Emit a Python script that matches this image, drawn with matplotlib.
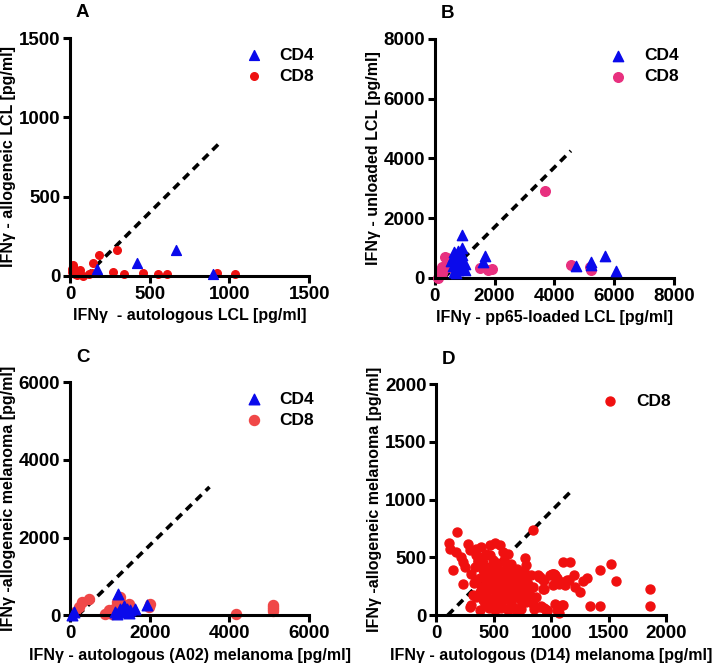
import matplotlib
matplotlib.use('Agg')
import matplotlib.pyplot as plt

plt.rcParams['font.family'] = ['Liberation Sans', 'DejaVu Sans']
plt.rcParams['font.weight'] = 'bold'

# ---- Panel A: autologous vs allogeneic LCL ----
a_cd4_x = [169, 418, 664, 894]
a_cd4_y = [44, 82, 162, 15]
a_cd8_x = [10, 21, 21, 31, 42, 52, 63, 84, 120, 136, 146, 184, 268, 297, 341, 460, 554, 607, 925, 1035, 30, 15]
a_cd8_y = [27, 59, 70, 38, 6, 27, 38, 0, 15, 17, 80, 132, 27, 164, 11, 17, 11, 11, 17, 11, 15, 45]
a_diag_x = [100, 930]
a_diag_y = [0, 830]

# ---- Panel B: pp65-loaded vs unloaded LCL ----
b_cd4_x = [914, 893, 1674, 1617, 4735, 5236, 5236, 5681, 6071, 600, 650, 700, 750, 800, 850, 900, 950,
           1000, 620, 700, 780, 860, 550, 680, 760, 820, 900, 640, 720, 800, 880, 1000]
b_cd4_y = [1430, 994, 736, 546, 402, 536, 440, 726, 235, 700, 850, 600, 800, 500, 650, 420, 300,
           250, 400, 300, 250, 350, 550, 700, 900, 620, 750, 200, 150, 450, 560, 450]
b_cd8_x = [112, 167, 224, 335, 435, 300, 400, 250, 480, 1506, 1785, 1897, 3677, 4545, 5180, 5236]
b_cd8_y = [0, 211, 378, 713, 546, 300, 650, 150, 380, 325, 268, 291, 2915, 424, 369, 279]
b_diag_x = [300, 4550]
b_diag_y = [0, 4250]

# ---- Panel C: autologous (A02) vs allogeneic melanoma ----
c_cd4_x = [50, 92, 1137, 1205, 1263, 1300, 1347, 1389, 1431, 1480, 1514, 1640, 1933, 1180, 1350]
c_cd4_y = [0, 86, 86, 559, 172, 100, 215, 86, 172, 60, 129, 172, 258, 30, 250]
c_cd8_x = [134, 218, 301, 469, 887, 971, 1054, 1096, 1180, 1250, 1300, 1473, 1975, 2016, 1200,
           4162, 5098, 5098, 5098, 5098, 1400]
c_cd8_y = [86, 215, 343, 429, 43, 129, 43, 172, 343, 473, 300, 300, 215, 300, 200,
           43, 258, 215, 172, 120, 250]
c_diag_x = [200, 3500]
c_diag_y = [0, 3300]

# ---- Panel D: autologous (D14) vs allogeneic melanoma ----
d_cd8_x = [180, 107, 116, 174, 276, 290, 218, 145, 232, 247, 348, 392, 464, 508, 551, 435, 580, 624,
           348, 363, 406, 493, 334, 305, 435, 522, 580, 609, 667, 696, 769, 777, 841, 232, 348, 406,
           435, 479, 551, 638, 711, 783, 841, 885, 928, 1015, 1044, 1102, 406, 377, 464, 580, 653,
           740, 841, 899, 957, 290, 522, 624, 696, 783, 928, 1015, 464, 537, 595, 667, 740, 377,
           319, 435, 508, 580, 696, 769, 812, 406, 464, 508, 551, 609, 667, 725, 638, 566, 493, 421,
           769, 870, 348, 377, 450, 508, 566, 624, 682, 740,
           1160, 1523, 1427, 1566, 1007, 1036, 934, 940, 1050, 1065, 1094, 1123, 1152, 1195, 1210,
           1247, 1276, 1311, 1862, 1862, 1340, 1421, 1094, 1050, 934, 963, 905, 1137, 1036, 1099,
           849, 907, 964, 993, 1022, 892, 302, 1064, 520, 560, 600, 640, 680, 470, 540, 610, 650, 700,
           420, 450, 480, 510, 540, 570, 600, 630, 660, 690, 720, 750, 430, 460, 490, 520, 550, 580,
           610, 640, 670, 700, 730, 760, 790, 400, 440, 480, 530, 570, 620, 660, 710, 750, 800, 390,
           460, 500, 560, 620, 690, 330, 360, 410, 470, 530, 590, 650, 700, 760, 820]
d_cd8_y = [716, 621, 577, 549, 615, 563, 505, 390, 462, 419, 577, 592, 606, 621, 606, 534, 549, 534,
           520, 476, 448, 476, 419, 361, 361, 390, 361, 419, 390, 346, 491, 433, 736, 274, 303, 245,
           202, 289, 245, 274, 303, 303, 245, 346, 303, 361, 303, 462, 130, 43, 87, 159, 101,
           58, 101, 72, 43, 72, 58, 43, 43, 116, 231, 260, 318, 332, 318, 231, 202, 202,
           173, 173, 159, 217, 202, 231, 173, 390, 419, 361, 303, 303, 318, 274, 130, 101, 101, 87,
           159, 159, 159, 318, 245, 217, 274, 217, 159, 130,
           462, 439, 390, 297, 361, 346, 303, 231, 318, 274, 289, 260, 303, 346, 245,
           202, 294, 326, 231, 81, 81, 78, 87, 49, 66, 38, 332, 303, 95, 87,
           58, 78, 49, 346, 361, 332, 87, 17, 260, 330, 280, 200, 350, 300, 380, 250, 420, 260,
           330, 280, 240, 300, 360, 220, 290, 250, 330, 280, 240, 300, 190, 230, 350, 270, 320, 190,
           240, 350, 270, 200, 260, 310, 230, 420, 370, 140, 410, 120, 380, 140, 330, 120, 270, 250,
           60, 50, 60, 55, 60, 280, 460, 500, 520, 450, 480, 440, 400, 380, 350]
d_diag_x = [100, 1170]
d_diag_y = [0, 1070]

BLUE = '#0a0aeb'
RED = '#ee1111'
PINK = '#e8307f'
SALMON = '#f04848'
D_RED = '#f01010'

fig = plt.figure(figsize=(7.14, 6.68), dpi=100)

positions = {
    'A': [0.098, 0.587, 0.335, 0.356],
    'B': [0.609, 0.584, 0.335, 0.358],
    'C': [0.098, 0.079, 0.335, 0.349],
    'D': [0.611, 0.079, 0.322, 0.346],
}

LEG = dict(loc='upper right', bbox_to_anchor=(1.05, 0.99), frameon=False,
           prop={'size': 12.5, 'weight': 'bold'}, handletextpad=0.5,
           labelspacing=0.35, borderaxespad=0)


def style_axes(ax, lim, ticks, xlabel, ylabel, letter):
    ax.set_xlim(0, lim)
    ax.set_ylim(0, lim)
    ax.set_xticks(ticks)
    ax.set_yticks(ticks)
    for side in ['top', 'right']:
        ax.spines[side].set_visible(False)
    for side in ['left', 'bottom']:
        ax.spines[side].set_linewidth(2.2)
    ax.tick_params(width=2.2, length=5, labelsize=13.5, pad=2)
    for lab in ax.get_xticklabels() + ax.get_yticklabels():
        lab.set_fontweight('bold')
    ax.set_xlabel(xlabel, fontsize=11.5, fontweight='bold', labelpad=4)
    ax.set_ylabel(ylabel, fontsize=11.5, fontweight='bold', labelpad=2)
    ax.text(0.025, 1.07, letter, transform=ax.transAxes, fontsize=13.5,
            fontweight='bold', ha='left', va='bottom')


def diag(ax, xs, ys):
    ax.plot(xs, ys, color='black', lw=2.6, linestyle=(0, (2.2, 1.6)), zorder=1)


# A
ax = fig.add_axes(positions['A'])
diag(ax, a_diag_x, a_diag_y)
ax.scatter(a_cd4_x, a_cd4_y, marker='^', s=50, color=BLUE, label='CD4', clip_on=False, zorder=3)
ax.scatter(a_cd8_x, a_cd8_y, marker='o', s=30, color=RED, label='CD8', clip_on=False, zorder=2)
style_axes(ax, 1500, [0, 500, 1000, 1500], 'IFNγ  - autologous LCL [pg/ml]',
           'IFNγ - allogeneic LCL [pg/ml]', 'A')
ax.legend(**LEG)

# B
ax = fig.add_axes(positions['B'])
diag(ax, b_diag_x, b_diag_y)
ax.scatter(b_cd8_x, b_cd8_y, marker='o', s=48, color=PINK, label='CD8', clip_on=False, zorder=2)
ax.scatter(b_cd4_x, b_cd4_y, marker='^', s=55, color=BLUE, label='CD4', clip_on=False, zorder=3)
style_axes(ax, 8000, [0, 2000, 4000, 6000, 8000], 'IFNγ - pp65-loaded LCL [pg/ml]',
           'IFNγ - unloaded LCL [pg/ml]', 'B')
h, l = ax.get_legend_handles_labels()
ax.legend(h[::-1], l[::-1], **LEG)

# C
ax = fig.add_axes(positions['C'])
diag(ax, c_diag_x, c_diag_y)
ax.scatter(c_cd8_x, c_cd8_y, marker='o', s=52, color=SALMON, label='CD8', clip_on=False, zorder=2)
ax.scatter(c_cd4_x, c_cd4_y, marker='^', s=58, color=BLUE, label='CD4', clip_on=False, zorder=3)
style_axes(ax, 6000, [0, 2000, 4000, 6000], 'IFNγ - autologous (A02) melanoma [pg/ml]',
           'IFNγ -allogeneic melanoma [pg/ml]', 'C')
h, l = ax.get_legend_handles_labels()
ax.legend(h[::-1], l[::-1], **LEG)

# D
ax = fig.add_axes(positions['D'])
diag(ax, d_diag_x, d_diag_y)
ax.scatter(d_cd8_x, d_cd8_y, marker='o', s=42, color=D_RED, label='CD8', clip_on=False, zorder=2)
style_axes(ax, 2000, [0, 500, 1000, 1500, 2000], 'IFNγ - autologous (D14) melanoma [pg/ml]',
           'IFNγ -allogeneic melanoma [pg/ml]', 'D')
ax.legend(**LEG)

fig.savefig('out.png', dpi=100)
